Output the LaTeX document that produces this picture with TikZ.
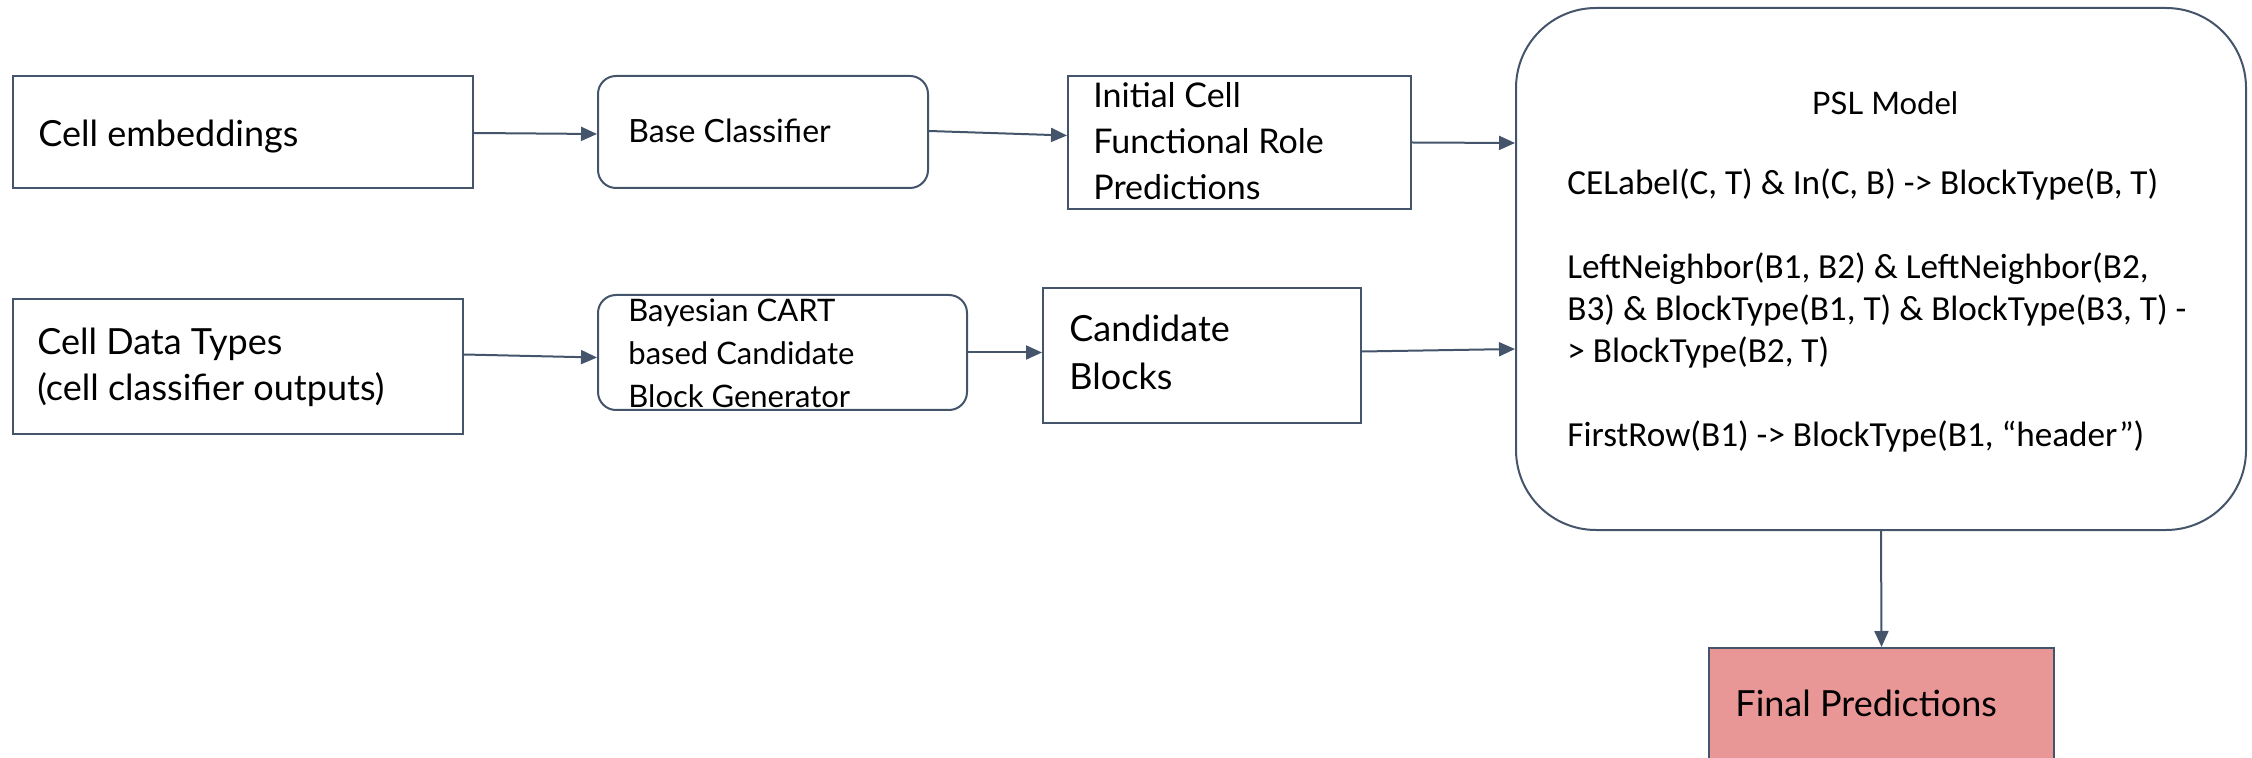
\documentclass[tikz,border=0pt]{standalone}
\usepackage{fontspec}
\newfontfamily\gill{Lato}
\newfontfamily\calib{Carlito}
\usetikzlibrary{arrows.meta,calc}
\definecolor{edgecol}{HTML}{44546A}
\definecolor{finalfill}{HTML}{E99696}
\newcommand\tl[1]{\begin{tabular}[t]{@{}l@{}}#1\end{tabular}}
\begin{document}
\begin{tikzpicture}[x=0.5pt,y=-0.5pt,
  box/.style={draw=edgecol, line width=1pt, inner sep=0pt, anchor=north west},
  rbox/.style={box, rounded corners=9pt},
  lbl/.style={anchor=base west, inner sep=0pt, text=black},
  big/.style={font=\gill\fontsize{18}{23}\selectfont},
  small/.style={font=\gill\fontsize{15.5}{21.5}\selectfont},
  conn/.style={draw=edgecol, line width=1pt, -{Triangle[length=8pt,width=7pt]}}]
\clip (0,0) rectangle (2252,758);
% boxes
\node[box, minimum width=230pt, minimum height=56pt] (emb) at (12,75) {};
\node[rbox, minimum width=165pt, minimum height=56pt] (base) at (597,75) {};
\node[box, minimum width=171.5pt, minimum height=66.5pt] (init) at (1067,75) {};
\node[box, minimum width=225pt, minimum height=67.5pt] (dtypes) at (12,298) {};
\node[rbox, minimum width=184.5pt, minimum height=57.5pt] (bayes) at (597,294) {};
\node[box, minimum width=159pt, minimum height=67.5pt] (cand) at (1042,287) {};
\node[box, rounded corners=40pt, minimum width=365pt, minimum height=261pt] (psl) at (1515,7) {};
\node[box, fill=finalfill, minimum width=172.5pt, minimum height=100pt] (final) at (1708,647) {};
% texts
\node[lbl, big] (tEmb) at (38,147) {Cell embeddings};
\node[lbl, big] (tDT) at (37,355) {\tl{Cell Data Types\\(cell classifier outputs)}};
\node[lbl, font=\gill\fontsize{16}{21}\selectfont] (tBase) at (628,143) {Base Classifier};
\node[lbl, small] (tBayes) at (628,322) {\tl{Bayesian CART\\based Candidate\\Block Generator}};
\node[lbl, font=\gill\fontsize{17}{23}\selectfont] (tInit) at (1093,108) {\tl{Initial Cell\\Functional Role\\Predictions}};
\node[lbl, font=\gill\fontsize{18}{24}\selectfont] (tCand) at (1069,342) {\tl{Candidate\\Blocks}};
\node[anchor=base, inner sep=0pt, font=\gill\fontsize{15.5}{20}\selectfont] (tPSL) at (1885,115) {PSL Model};
\node[lbl, font=\calib\fontsize{17.6}{21}\selectfont] (tRules) at (1567,195) {\tl{CELabel(C, T) \& In(C, B) -> BlockType(B, T)\\ \\LeftNeighbor(B1, B2) \& LeftNeighbor(B2,\\B3) \& BlockType(B1, T) \& BlockType(B3, T) -\\> BlockType(B2, T)\\ \\FirstRow(B1) -> BlockType(B1, “header”)}};
\node[lbl, big] (tFinal) at (1735,716) {Final Predictions};
% connectors
\draw[conn] ($(emb.east)+(0,1)$) -- ($(base.west)+(0,2)$);
\draw[conn] ($(base.east)+(0,-1)$) -- ($(init.west)+(0,-7)$);
\draw[conn] (init.east) -- ($(psl.west)+(0,-126)$);
\draw[conn] ($(dtypes.east)+(0,-12)$) -- ($(bayes.west)+(0,5)$);
\draw[conn] (bayes.east) -- (cand.west |- bayes.east);
\draw[conn] ($(cand.east)+(0,-4)$) -- ($(psl.west)+(0,80)$);
\draw[conn] (psl.south) -- (final.north);
\end{tikzpicture}
\end{document}
